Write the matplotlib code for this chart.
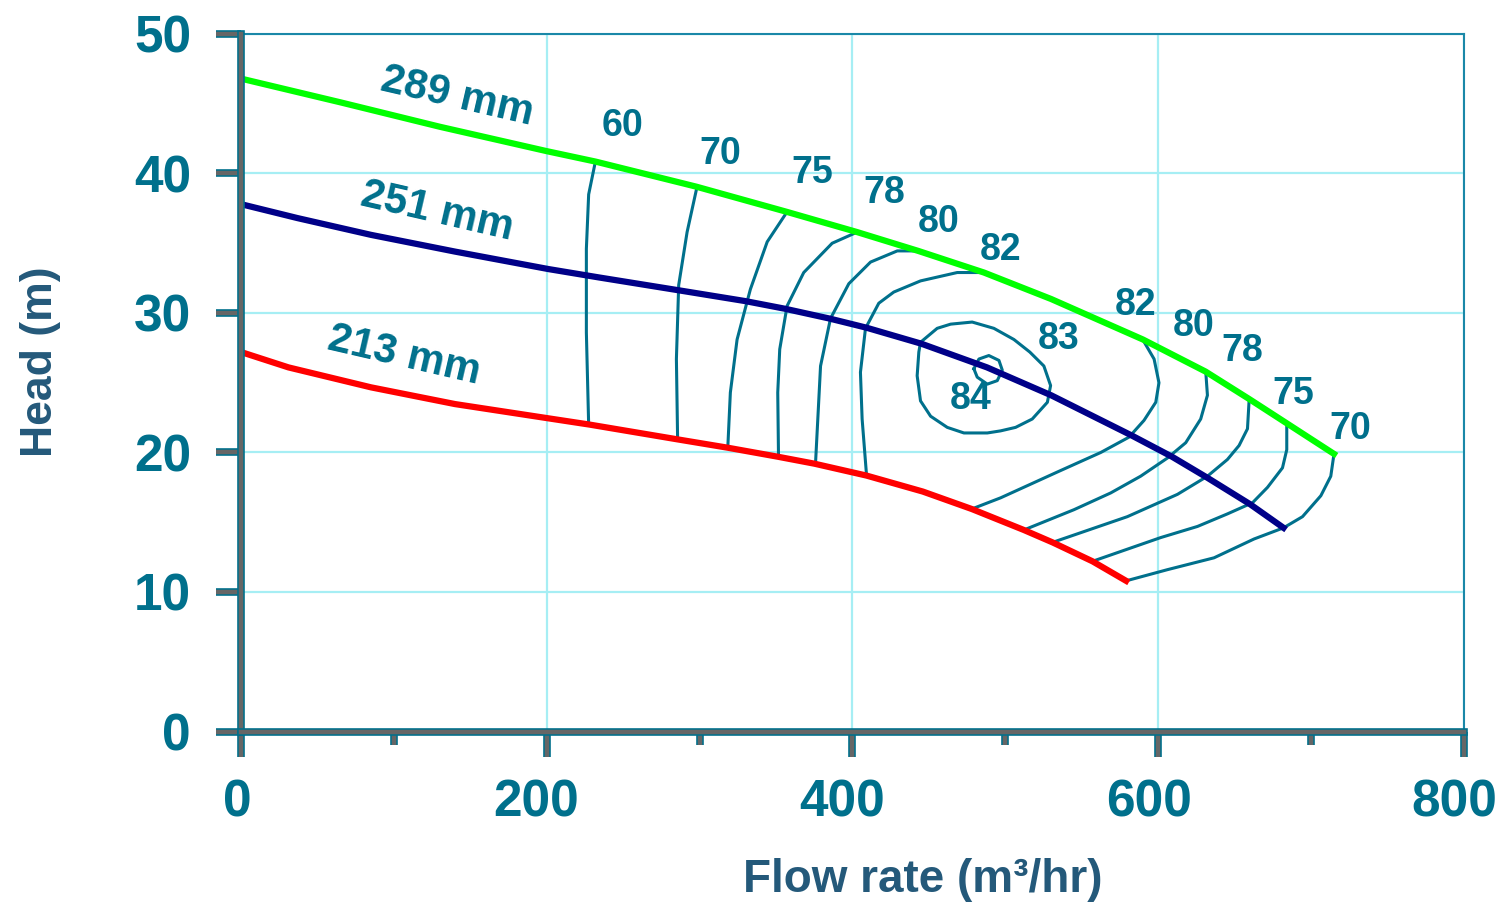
import matplotlib
matplotlib.use("Agg")
import matplotlib.pyplot as plt
import matplotlib.patheffects as pe
from matplotlib.transforms import ScaledTranslation

plt.rcParams['font.family'] = ['Liberation Sans', 'DejaVu Sans']

# impeller head curves (flow m3/hr, head m)
q_289 = [0, 65, 130, 200, 232, 298, 357, 403, 443, 486, 530, 590, 631, 660, 684, 715]
h_289 = [46.8, 45.1, 43.35, 41.6, 40.85, 39.05, 37.25, 35.8, 34.45, 32.9, 31.0, 28.1, 25.8, 23.8, 22.1, 19.9]

q_251 = [0, 37, 85, 140, 201, 234, 285, 330, 356, 385, 409, 445, 488, 530, 583, 609, 632, 660, 682]
h_251 = [37.8, 36.8, 35.6, 34.4, 33.15, 32.55, 31.65, 30.85, 30.3, 29.6, 28.95, 27.8, 26.1, 24.1,
         21.2, 19.7, 18.2, 16.3, 14.6]

q_213 = [0, 31, 85, 140, 201, 228, 285, 318, 351, 375, 409, 446, 478, 512, 531, 557, 579]
h_213 = [27.2, 26.1, 24.67, 23.47, 22.45, 22.0, 20.95, 20.35, 19.7, 19.2, 18.35, 17.2, 15.95,
         14.45, 13.55, 12.2, 10.8]

diameters = ["289 mm", "251 mm", "213 mm"]

# iso-efficiency lines
eff_60_q = [231.8, 227.4, 225.9, 225.9, 227.4]
eff_60_h = [40.85, 38.5, 34.6, 28.6, 22.0]

eff_70a_q = [298.3, 291.8, 286.3, 284.8, 285.6]
eff_70a_h = [39.05, 35.8, 32.0, 26.7, 20.9]

eff_75a_q = [357.2, 344.2, 333.2, 324.5, 320.1, 318.4]
eff_75a_h = [37.25, 35.1, 31.7, 28.1, 24.3, 20.3]

eff_78a_q = [403.1, 386.7, 368.1, 357.2, 352.4, 351.1, 351.6]
eff_78a_h = [35.8, 35.0, 32.9, 30.5, 27.4, 24.3, 19.7]

eff_80a_q = [443.4, 429.3, 411.8, 397.6, 385.6, 379.1, 375.8]
eff_80a_h = [34.45, 34.45, 33.65, 32.1, 29.6, 26.2, 19.2]

eff_82a_q = [486.0, 468.5, 444.5, 427.0, 417.2, 408.5, 405.2, 406.3, 409.2]
eff_82a_h = [32.9, 32.9, 32.3, 31.5, 30.7, 28.9, 25.75, 22.4, 18.35]

eff_83_q = [444.5, 455.4, 464.2, 478.3, 492.5, 505.6, 516.0, 525.2, 529.6, 527.5, 517.6,
            506.7, 496.9, 488.2, 472.9, 462.0, 451.1, 444.5, 442.3, 443.4, 444.5]
eff_83_h = [27.9, 28.9, 29.2, 29.35, 28.9, 28.1, 27.2, 26.2, 24.8, 23.6, 22.4,
            21.8, 21.55, 21.4, 21.4, 21.8, 22.6, 23.7, 25.5, 27.2, 27.9]

eff_84_q = [479.4, 482.7, 489.2, 495.8, 498.0, 494.7, 488.2, 481.6, 479.4]
eff_84_h = [26.0, 26.7, 26.95, 26.6, 25.9, 25.15, 24.9, 25.4, 26.0]

eff_82b_q = [589.6, 597.3, 600.5, 598.4, 590.7, 580.9, 562.4, 534.0, 496.9, 478.0]
eff_82b_h = [28.15, 26.7, 25.0, 23.6, 22.3, 21.1, 20.0, 18.6, 16.75, 15.95]

eff_80b_q = [631.1, 632.2, 627.8, 618.0, 606.0, 588.5, 568.9, 544.9, 512.2]
eff_80b_h = [25.8, 24.1, 22.4, 20.7, 19.6, 18.3, 17.1, 15.9, 14.45]

eff_78b_q = [659.5, 658.4, 652.9, 645.3, 632.2, 612.6, 579.8, 530.7]
eff_78b_h = [23.8, 21.7, 20.5, 19.5, 18.3, 17.0, 15.4, 13.55]

eff_75b_q = [684.1, 684.1, 681.3, 671.5, 661.7, 645.3, 625.7, 601.6, 557.0]
eff_75b_h = [22.1, 20.2, 18.9, 17.5, 16.4, 15.6, 14.7, 13.9, 12.2]

eff_70b_q = [715.0, 712.9, 706.4, 694.4, 682.0, 662.7, 636.5, 606.0, 579.0]
eff_70b_h = [19.9, 18.3, 16.9, 15.4, 14.6, 13.8, 12.45, 11.6, 10.8]

eff_labels = ["60", "70", "75", "78", "80", "82", "83", "84", "82", "80", "78", "75", "70"]
eff_label_q = [249.4, 313.6, 373.8, 421.0, 456.3, 496.9, 534.9, 477.3, 585.3, 623.2, 655.3, 688.1, 725.4]
eff_label_h = [43.4, 41.4, 40.0, 38.6, 36.5, 34.5, 28.1, 23.8, 30.6, 29.1, 27.3, 24.2, 21.7]

x_ticks = [0, 200, 400, 600, 800]
x_minor = [100, 300, 500, 700]
y_ticks = [0, 10, 20, 30, 40, 50]

teal = "#00708c"
label_col = "#24597a"

fig = plt.figure(figsize=(15.01, 9.06), dpi=100)
ax = fig.add_axes([0.1606, 0.1926, 0.8147, 0.7699])

ax.set_xlim(0, 800)
ax.set_ylim(0, 50)
ax.set_xticks(x_ticks)
ax.set_xticks(x_minor, minor=True)
ax.set_yticks(y_ticks)
ax.grid(True, color="#a6eef4", linewidth=1.6, zorder=0)
ax.set_axisbelow(True)

# efficiency contours
eff_lines = [(eff_60_q, eff_60_h), (eff_70a_q, eff_70a_h), (eff_75a_q, eff_75a_h),
             (eff_78a_q, eff_78a_h), (eff_80a_q, eff_80a_h), (eff_82a_q, eff_82a_h),
             (eff_83_q, eff_83_h), (eff_84_q, eff_84_h), (eff_82b_q, eff_82b_h),
             (eff_80b_q, eff_80b_h), (eff_78b_q, eff_78b_h), (eff_75b_q, eff_75b_h),
             (eff_70b_q, eff_70b_h)]
for q, h in eff_lines:
    ax.plot(q, h, color=teal, linewidth=2.2, zorder=2, solid_joinstyle="round")

ax.plot(q_289, h_289, color="#00ff00", linewidth=4.5, zorder=3, solid_joinstyle="round")
ax.plot(q_251, h_251, color="#000088", linewidth=4.5, zorder=3, solid_joinstyle="round")
ax.plot(q_213, h_213, color="#ff0000", linewidth=4.5, zorder=3, solid_joinstyle="round")

for txt, q, h in zip(diameters, [141.2, 128.5, 106.7], [45.5, 37.25, 26.9]):
    ax.text(q, h, txt, color=teal, fontsize=30, fontweight="bold",
            rotation=-13, ha="center", va="center", rotation_mode="anchor")

for txt, q, h in zip(eff_labels, eff_label_q, eff_label_h):
    ax.text(q, h, txt, color=teal, fontsize=27, fontweight="bold", ha="center", va="center")

# spines: thick grey with teal edging on left/bottom, thin teal on top/right
edge = [pe.Stroke(linewidth=5.5, foreground=teal), pe.Normal()]
for side in ["left", "bottom"]:
    ax.spines[side].set_color("#666666")
    ax.spines[side].set_linewidth(3.2)
    ax.spines[side].set_path_effects(edge)
    ax.spines[side].set_zorder(5)
for side in ["top", "right"]:
    ax.spines[side].set_color("#1a88a8")
    ax.spines[side].set_linewidth(1.5)

ax.tick_params(axis="both", which="major", direction="out", length=18, width=3.2,
               color="#666666", labelsize=37, labelcolor=teal)
ax.tick_params(axis="x", which="minor", direction="out", length=10, width=3.2, color="#666666")
ax.tick_params(axis="x", which="major", pad=16)
ax.tick_params(axis="y", which="major", pad=18)
for tick in ax.xaxis.get_major_ticks() + ax.xaxis.get_minor_ticks() + ax.yaxis.get_major_ticks():
    tick.tick1line.set_path_effects(edge)
for lab in ax.get_xticklabels() + ax.get_yticklabels():
    lab.set_fontweight("bold")

# x tick labels sit a little left of their ticks
for lab, dx in zip(ax.get_xticklabels(), [-4, -11, -10, -9, -10]):
    lab.set_transform(lab.get_transform() + ScaledTranslation(dx / 100, 0, fig.dpi_scale_trans))

ax.set_xlabel("Flow rate (m³/hr)", fontsize=33, fontweight="bold", color=label_col)
ax.set_ylabel("Head (m)", fontsize=32, fontweight="bold", color=label_col)
ax.xaxis.set_label_coords(0.5577, -0.213)
ax.xaxis.label.set_va("center")
ax.yaxis.set_label_coords(-0.1644, 0.53)
ax.yaxis.label.set_va("center")

fig.savefig("out.png", dpi=100)
